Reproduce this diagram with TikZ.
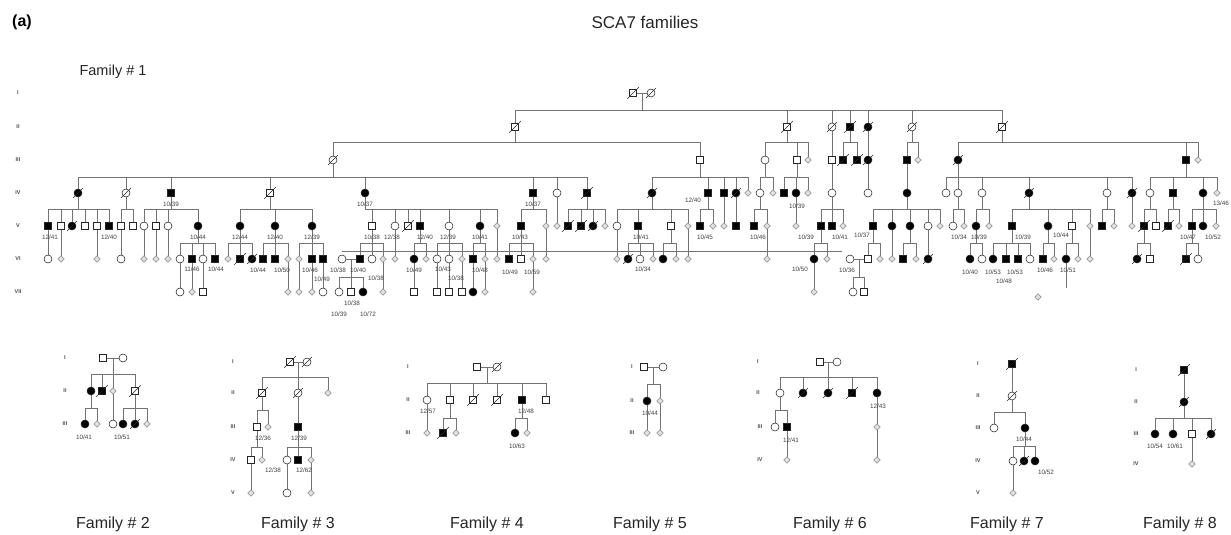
\documentclass[tikz,border=0pt]{standalone}
\usepackage{fontspec}
\setmainfont{Liberation Sans}
\usetikzlibrary{shapes.geometric,calc}
\pgfdeclarelayer{bg}
\pgfsetlayers{bg,main}
\tikzset{
  sym/.style={draw=black!85, line width=0.55pt, inner sep=0pt, outer sep=0pt},
  pm/.style={sym, rectangle, minimum size=7.5pt, fill=white},
  pma/.style={sym, rectangle, minimum size=7.5pt, fill=black},
  pf/.style={sym, circle, minimum size=8pt, fill=white},
  pfa/.style={sym, circle, minimum size=8pt, fill=black},
  pu/.style={sym, diamond, minimum size=6.5pt, draw=black!45, fill=black!12},
  ln/.style={draw=black!55, line width=0.6pt},
  slash/.style={draw=black!85, line width=0.5pt},
  lab/.style={font=\fontsize{6.3}{7}\selectfont, text=black!75, inner sep=0pt},
  rom/.style={font=\bfseries\fontsize{5.5}{6}\selectfont, text=black!70, inner sep=0pt},
  fam/.style={font=\fontsize{16}{18}\selectfont, text=black!85, inner sep=0pt},
}
\def\yA{93}\def\yB{127}\def\yC{160}\def\yD{193}\def\yE{226}\def\yF{259}\def\yG{292}
\newcommand\Dec[1]{\draw[slash] ([shift={(-2pt,-2pt)}]#1.south west) -- ([shift={(2pt,2pt)}]#1.north east);}
\newcommand\Nd[3]{\node[#2] (#1#3) at (#3,\csname y#1\endcsname) {};}
\newcommand\Ndx[3]{\Nd{#1}{#2}{#3}\Dec{#1#3}}
\newcommand\Jn[4]{\node[#2] (#1) at (#3,#4) {};}
\newcommand\Jx[4]{\Jn{#1}{#2}{#3}{#4}\Dec{#1}}
\newcommand\Lab[3]{\node[lab] (L#1x#2) at (#1,#2) {#3};}
\newcommand\Sib[3]{%
  \draw[ln] (#1) -- (#1 |- 0,#2);
  \foreach \ch in {#3}{\draw[ln] (\ch) -- (\ch |- 0,#2) -- (#1 |- 0,#2);}%
}
\begin{document}
\begin{tikzpicture}[x=1pt,y=-1pt]
\begin{pgfonlayer}{bg}
\fill[white] (0,0) rectangle (1231,535);
\end{pgfonlayer}
\useasboundingbox (0,0) rectangle (1231,535);

% ---------------- titles
\node[font=\bfseries\fontsize{16}{18}\selectfont, inner sep=0pt] (ta) at (22,22) {(a)};
\node[fam, font=\fontsize{17}{19}\selectfont] (tt) at (645,22) {SCA7 families};
\node[fam, font=\fontsize{14.5}{17}\selectfont] (t1) at (113,72) {Family \# 1};
\node[fam] (t2) at (113,524) {Family \# 2};
\node[fam] (t3) at (298,524) {Family \# 3};
\node[fam] (t4) at (487,524) {Family \# 4};
\node[fam] (t5) at (650,524) {Family \# 5};
\node[fam] (t6) at (830,524) {Family \# 6};
\node[fam] (t7) at (1007,524) {Family \# 7};
\node[fam] (t8) at (1180,524) {Family \# 8};

% ---------------- roman numerals family 1
\node[rom] (r1) at (18,93) {I};
\node[rom] (r2) at (18,127) {II};
\node[rom] (r3) at (18,160) {III};
\node[rom] (r4) at (18,193) {IV};
\node[rom] (r5) at (18,226) {V};
\node[rom] (r6) at (18,259) {VI};
\node[rom] (r7) at (18,292) {VII};

% ---------------- Family 1 individuals
\Ndx{A}{pm}{633} \Ndx{A}{pf}{651}
\coordinate (Am) at (642,93);

\Ndx{B}{pm}{515} \Ndx{B}{pm}{787} \Ndx{B}{pf}{832} \Ndx{B}{pma}{850} \Ndx{B}{pfa}{868} \Ndx{B}{pf}{912} \Ndx{B}{pm}{1002}

\Ndx{C}{pf}{333} \Nd{C}{pm}{700} \Nd{C}{pf}{765} \Nd{C}{pm}{797} \Nd{C}{pu}{808} \Nd{C}{pm}{832}
\Ndx{C}{pma}{843} \Ndx{C}{pma}{857} \Ndx{C}{pfa}{868} \Nd{C}{pma}{907} \Nd{C}{pu}{918} \Ndx{C}{pfa}{958}
\Nd{C}{pma}{1186} \Nd{C}{pu}{1198}

\Ndx{D}{pfa}{78} \Ndx{D}{pf}{126} \Nd{D}{pma}{171} \Ndx{D}{pm}{270} \Nd{D}{pfa}{365} \Nd{D}{pma}{533}
\Nd{D}{pf}{557} \Ndx{D}{pma}{587} \Ndx{D}{pfa}{652} \Nd{D}{pma}{708} \Nd{D}{pma}{724} \Ndx{D}{pfa}{736}
\Nd{D}{pu}{748} \Nd{D}{pf}{760} \Nd{D}{pu}{773} \Nd{D}{pma}{784} \Nd{D}{pfa}{796} \Nd{D}{pu}{808}
\Nd{D}{pf}{832} \Nd{D}{pf}{868} \Nd{D}{pfa}{907} \Nd{D}{pf}{946} \Nd{D}{pf}{958} \Nd{D}{pf}{982}
\Ndx{D}{pfa}{1029} \Nd{D}{pf}{1107} \Ndx{D}{pfa}{1132} \Nd{D}{pf}{1150} \Nd{D}{pma}{1173} \Nd{D}{pfa}{1203} \Nd{D}{pu}{1217}

\Nd{E}{pma}{48} \Nd{E}{pm}{61} \Ndx{E}{pfa}{72} \Nd{E}{pm}{85} \Nd{E}{pm}{97} \Nd{E}{pma}{109}
\Nd{E}{pm}{121} \Nd{E}{pm}{133}
\Nd{E}{pf}{144} \Nd{E}{pm}{156} \Nd{E}{pf}{168} \Nd{E}{pfa}{198}
\Nd{E}{pfa}{240} \Nd{E}{pfa}{275} \Nd{E}{pfa}{312}
\Nd{E}{pm}{372} \Nd{E}{pf}{395} \Ndx{E}{pm}{408} \Nd{E}{pma}{420} \Nd{E}{pf}{449} \Nd{E}{pfa}{480} \Nd{E}{pu}{497}
\Nd{E}{pma}{521} \Nd{E}{pu}{546} \Nd{E}{pu}{557}
\Ndx{E}{pma}{568} \Ndx{E}{pma}{581} \Ndx{E}{pfa}{593} \Nd{E}{pu}{605}
\Nd{E}{pf}{617} \Nd{E}{pma}{638} \Nd{E}{pm}{671} \Nd{E}{pu}{688}
\Nd{E}{pma}{700} \Nd{E}{pu}{713} \Nd{E}{pu}{724} \Nd{E}{pma}{736}
\Nd{E}{pma}{754} \Nd{E}{pu}{767} \Nd{E}{pu}{796}
\Nd{E}{pma}{821} \Nd{E}{pma}{832} \Nd{E}{pu}{843}
\Nd{E}{pma}{873} \Nd{E}{pfa}{892} \Nd{E}{pfa}{910} \Nd{E}{pf}{928} \Nd{E}{pu}{940}
\Nd{E}{pf}{953} \Nd{E}{pu}{964} \Nd{E}{pfa}{976} \Nd{E}{pu}{989}
\Nd{E}{pma}{1012} \Nd{E}{pfa}{1048} \Nd{E}{pm}{1072} \Nd{E}{pu}{1090}
\Nd{E}{pma}{1102} \Nd{E}{pu}{1114} \Nd{E}{pu}{1132}
\Ndx{E}{pma}{1144} \Nd{E}{pm}{1156} \Ndx{E}{pma}{1168} \Nd{E}{pu}{1179}
\Nd{E}{pma}{1192} \Nd{E}{pfa}{1203} \Nd{E}{pu}{1216}

\Nd{F}{pf}{48} \Nd{F}{pu}{61} \Nd{F}{pu}{97} \Nd{F}{pf}{121} \Nd{F}{pu}{144} \Nd{F}{pu}{156} \Nd{F}{pu}{168}
\Nd{F}{pf}{180} \Nd{F}{pma}{192} \Nd{F}{pf}{203} \Nd{F}{pma}{215}
\Nd{F}{pu}{228} \Ndx{F}{pma}{240} \Ndx{F}{pfa}{252}
\Nd{F}{pma}{263} \Nd{F}{pma}{275} \Nd{F}{pu}{288}
\Nd{F}{pu}{299} \Nd{F}{pma}{312} \Nd{F}{pma}{323}
\Nd{F}{pf}{342} \Nd{F}{pma}{360} \Nd{F}{pf}{372} \Nd{F}{pu}{383}
\Nd{F}{pu}{395} \Nd{F}{pfa}{414} \Nd{F}{pu}{426}
\Nd{F}{pf}{437} \Nd{F}{pf}{449} \Nd{F}{pu}{462} \Nd{F}{pma}{473} \Nd{F}{pu}{485} \Nd{F}{pu}{497}
\Nd{F}{pma}{509} \Nd{F}{pm}{521} \Nd{F}{pu}{533} \Nd{F}{pu}{546}
\Nd{F}{pu}{617} \Ndx{F}{pfa}{628} \Nd{F}{pf}{640} \Nd{F}{pu}{653} \Nd{F}{pfa}{663} \Nd{F}{pu}{676} \Nd{F}{pu}{688}
\Nd{F}{pu}{767} \Nd{F}{pfa}{814} \Nd{F}{pu}{827}
\Nd{F}{pf}{850} \Nd{F}{pm}{868} \Nd{F}{pu}{880} \Nd{F}{pu}{892} \Nd{F}{pma}{903} \Nd{F}{pu}{916} \Ndx{F}{pfa}{928}
\Nd{F}{pfa}{970} \Nd{F}{pf}{982} \Nd{F}{pfa}{993} \Nd{F}{pma}{1006} \Nd{F}{pma}{1018} \Nd{F}{pf}{1030}
\Nd{F}{pma}{1043} \Nd{F}{pu}{1054} \Nd{F}{pfa}{1066} \Nd{F}{pu}{1078} \Nd{F}{pu}{1090}
\Ndx{F}{pfa}{1137} \Nd{F}{pm}{1150} \Ndx{F}{pma}{1186} \Nd{F}{pf}{1198}
\coordinate (Fm351) at (351,259);
\coordinate (Fm859) at (859,259);

\Nd{G}{pf}{180} \Nd{G}{pu}{192} \Nd{G}{pm}{203}
\Nd{G}{pu}{288} \Nd{G}{pu}{299} \Nd{G}{pu}{312} \Nd{G}{pf}{323}
\Nd{G}{pf}{339} \Nd{G}{pm}{351} \Nd{G}{pfa}{363} \Nd{G}{pu}{383}
\Nd{G}{pm}{414} \Nd{G}{pm}{437} \Nd{G}{pm}{449} \Nd{G}{pm}{462} \Nd{G}{pfa}{473} \Nd{G}{pu}{485} \Nd{G}{pu}{533}
\Nd{G}{pu}{814} \Nd{G}{pf}{853} \Nd{G}{pm}{864}
\node[pu] (G1038) at (1038,297) {};
\coordinate (T1066) at (1066,288);
\coordinate (LLa) at (342,251);
\coordinate (LLb) at (842,251);

% ---------------- Family 1 labels
\Lab{171}{204}{10/39} \Lab{365}{204}{10/37} \Lab{533}{204}{10/37} \Lab{693}{200}{12/40} \Lab{797}{206}{10/39} \Lab{1221}{203}{13/46}
\Lab{50}{237}{12/41} \Lab{109}{237}{12/40} \Lab{198}{237}{10/44} \Lab{240}{237}{12/44} \Lab{275}{237}{12/40} \Lab{312}{237}{12/39}
\Lab{372}{237}{10/38} \Lab{392}{237}{12/38} \Lab{425}{237}{12/40} \Lab{448}{237}{12/39} \Lab{480}{237}{10/41} \Lab{520}{237}{10/43}
\Lab{641}{237}{10/41} \Lab{705}{237}{10/45} \Lab{758}{237}{10/46} \Lab{806}{237}{10/39} \Lab{840}{237}{10/41} \Lab{862}{235}{10/37}
\Lab{959}{237}{10/34} \Lab{979}{237}{10/39} \Lab{1023}{237}{10/39} \Lab{1061}{235}{10/44} \Lab{1188}{237}{10/47} \Lab{1213}{237}{10/52}
\Lab{192}{269}{11/46} \Lab{216}{269}{10/44} \Lab{258}{270}{10/44} \Lab{282}{270}{10/50} \Lab{310}{270}{10/46} \Lab{322}{279}{10/49}
\Lab{338}{270}{10/38} \Lab{358}{270}{10/40} \Lab{376}{278}{10/38} \Lab{414}{270}{10/49} \Lab{443}{269}{10/43} \Lab{456}{278}{10/38}
\Lab{480}{270}{10/48} \Lab{510}{272}{10/49} \Lab{532}{272}{10/59} \Lab{643}{269}{10/34} \Lab{800}{269}{10/50} \Lab{847}{270}{10/36}
\Lab{970}{272}{10/40} \Lab{993}{272}{10/53} \Lab{1015}{272}{10/53} \Lab{1004}{281}{10/48} \Lab{1045}{270}{10/46} \Lab{1068}{270}{10/51}
\Lab{352}{303}{10/38} \Lab{339}{314}{10/39} \Lab{368}{314}{10/72}

% ---------------- Family 2
\node[rom] (f2r1) at (65,358) {I}; \node[rom] (f2r2) at (65,391) {II}; \node[rom] (f2r3) at (65,424) {III};
\Jn{ba103}{pm}{103}{358} \Jn{ba123}{pf}{123}{358} \coordinate (bam) at (113,358);
\Jn{bb91}{pfa}{91}{391} \Jx{bb102}{pma}{102}{391} \Jn{bb113}{pu}{113}{391} \Jx{bb135}{pm}{135}{391}
\Jn{bc85}{pfa}{85}{424} \Jn{bc97}{pu}{97}{424} \Jn{bc113}{pf}{113}{424} \Jn{bc123}{pfa}{123}{424} \Jx{bc135}{pfa}{135}{424} \Jn{bc147}{pu}{147}{424}
\Lab{84}{437}{10/41} \Lab{122}{437}{10/51}

% ---------------- Family 3
\node[rom] (f3r1) at (233,362) {I}; \node[rom] (f3r2) at (233,393) {II}; \node[rom] (f3r3) at (233,427) {III};
\node[rom] (f3r4) at (233,460) {IV}; \node[rom] (f3r5) at (233,493) {V};
\Jx{ca290}{pm}{290}{362} \Jx{ca307}{pf}{307}{362} \coordinate (cam) at (298,362);
\Jx{cb262}{pm}{262}{393} \Jx{cb298}{pf}{298}{393} \Jn{cb328}{pu}{328}{393}
\Jn{cc257}{pm}{257}{427} \Jn{cc268}{pu}{268}{427} \Jn{cc298}{pma}{298}{427}
\Jn{cd251}{pm}{251}{460} \Jn{cd262}{pu}{262}{460} \Jn{cd287}{pf}{287}{460} \Jn{cd298}{pma}{298}{460} \Jn{cd311}{pu}{311}{460}
\Jn{ce251}{pu}{251}{493} \Jn{ce287}{pf}{287}{493} \Jn{ce311}{pu}{311}{493}
\Lab{263}{438}{12/36} \Lab{299}{438}{12/39} \Lab{273}{470}{12/38} \Lab{304}{470}{12/62}

% ---------------- Family 4
\node[rom] (f4r1) at (408,367) {I}; \node[rom] (f4r2) at (408,400) {II}; \node[rom] (f4r3) at (408,433) {III};
\Jn{da477}{pm}{477}{367} \Jx{da497}{pf}{497}{367} \coordinate (dam) at (487,367);
\Jn{db427}{pf}{427}{400} \Jn{db450}{pm}{450}{400} \Jx{db473}{pm}{473}{400} \Jx{db497}{pm}{497}{400} \Jn{db522}{pma}{522}{400} \Jn{db546}{pm}{546}{400}
\Jn{dc427}{pu}{427}{433} \Jx{dc443}{pma}{443}{433} \Jn{dc456}{pu}{456}{433} \Jn{dc515}{pfa}{515}{433} \Jn{dc527}{pu}{527}{433}
\Lab{428}{411}{12/57} \Lab{526}{411}{12/48} \Lab{517}{446}{10/63}

% ---------------- Family 5
\node[rom] (f5r1) at (632,367) {I}; \node[rom] (f5r2) at (632,401) {II}; \node[rom] (f5r3) at (632,433) {III};
\Jn{ea644}{pm}{644}{367} \Jn{ea663}{pf}{663}{367} \coordinate (eam) at (653,367);
\Jn{eb647}{pfa}{647}{401} \Jn{eb660}{pu}{660}{401}
\Jn{ec647}{pu}{647}{433} \Jn{ec660}{pu}{660}{433}
\Lab{650}{413}{10/44}

% ---------------- Family 6
\node[rom] (f6r1) at (758,362) {I}; \node[rom] (f6r2) at (758,393) {II}; \node[rom] (f6r3) at (760,427) {III}; \node[rom] (f6r4) at (760,460) {IV};
\Jn{ha820}{pm}{820}{362} \Jn{ha837}{pf}{837}{362} \coordinate (ham) at (828,362);
\Jn{hb780}{pf}{780}{393} \Jx{hb803}{pfa}{803}{393} \Jx{hb828}{pfa}{828}{393} \Jx{hb852}{pma}{852}{393} \Jn{hb877}{pfa}{877}{393}
\Jn{hc775}{pf}{775}{427} \Jn{hc787}{pma}{787}{427} \Jn{hc877}{pu}{877}{427}
\Jn{hd787}{pu}{787}{460} \Jn{hd877}{pu}{877}{460}
\Lab{878}{406}{12/43} \Lab{791}{440}{12/41}

% ---------------- Family 7
\node[rom] (f7r1) at (978,364) {I}; \node[rom] (f7r2) at (978,396) {II}; \node[rom] (f7r3) at (978,428) {III};
\node[rom] (f7r4) at (978,461) {IV}; \node[rom] (f7r5) at (978,493) {V};
\Jx{ka1012}{pma}{1012}{364}
\Jx{kb1012}{pf}{1012}{396}
\Jn{kc994}{pf}{994}{428} \Jn{kc1025}{pfa}{1025}{428}
\Jn{kd1013}{pf}{1013}{461} \Jx{kd1024}{pfa}{1024}{461} \Jn{kd1035}{pfa}{1035}{461}
\Jn{ke1013}{pu}{1013}{493}
\Lab{1024}{439}{10/44} \Lab{1046}{472}{10/52}

% ---------------- Family 8
\node[rom] (f8r1) at (1136,370) {I}; \node[rom] (f8r2) at (1136,402) {II}; \node[rom] (f8r3) at (1136,434) {III}; \node[rom] (f8r4) at (1136,464) {IV};
\Jx{na1184}{pma}{1184}{370}
\Jx{nb1184}{pfa}{1184}{402}
\Jn{nc1155}{pfa}{1155}{434} \Jn{nc1173}{pfa}{1173}{434} \Jn{nc1192}{pm}{1192}{434} \Jx{nc1211}{pfa}{1211}{434}
\Jn{nd1192}{pu}{1192}{464}
\Lab{1155}{446}{10/54} \Lab{1175}{446}{10/61}

% ================= connectors
\begin{pgfonlayer}{bg}
% Family 1
\draw[ln] (A633) -- (A651);
\Sib{Am}{110}{B515,B787,B832,B850,B868,B912,B1002}
\Sib{B515}{142}{C333,C700}
\Sib{B787}{142}{C765,C797,C808}
\draw[ln] (B832) -- (C832);
\Sib{B850}{142}{C843,C857}
\draw[ln] (B868) -- (C868);
\Sib{B912}{142}{C907,C918}
\Sib{B1002}{142}{C958,C1186,C1198}

\Sib{C333}{177}{D78,D126,D171,D270,D365,D533,D557,D587}
\Sib{C700}{177}{D652,D708,D724,D736,D748}
\Sib{C765}{177}{D760,D773}
\Sib{C797}{177}{D784,D796,D808}
\draw[ln] (C832) -- (D832);
\draw[ln] (C868) -- (D868);
\draw[ln] (C907) -- (D907);
\Sib{C958}{177}{D946,D958,D982,D1029,D1107,D1132}
\Sib{C1186}{177}{D1150,D1173,D1203,D1217}

\Sib{D78}{209}{E48,E61,E72,E85,E97,E109}
\Sib{D126}{209}{E121,E133}
\Sib{D171}{209}{E144,E156,E168,E198}
\Sib{D270}{209}{E240,E275,E312}
\Sib{D365}{209}{E372,E395,E408,E420,E449,E480,E497}
\Sib{D533}{209}{E521,E546}
\draw[ln] (D557) -- (E557);
\Sib{D587}{209}{E568,E581,E593,E605}
\Sib{D652}{209}{E617,E638,E671,E688}
\Sib{D708}{209}{E700,E713}
\draw[ln] (D724) -- (E724);
\draw[ln] (D736) -- (E736);
\Sib{D760}{209}{E754,E767}
\draw[ln] (D796) -- (E796);
\Sib{D832}{209}{E821,E832,E843}
\Sib{D907}{209}{E873,E892,E910,E928,E940}
\Sib{D958}{209}{E953,E964}
\Sib{D982}{209}{E976,E989}
\Sib{D1029}{209}{E1012,E1048,E1072,E1090}
\Sib{D1107}{209}{E1102,E1114}
\draw[ln] (D1132) -- (E1132);
\Sib{D1150}{209}{E1144,E1156}
\Sib{D1173}{209}{E1168,E1179}
\Sib{D1203}{209}{E1192,E1203,E1216}

\foreach \a in {48,61,97,121,144,156,168,395,497,546,617,688,767,892,928,1090}{\draw[ln] (E\a) -- (F\a);}
\Sib{E198}{243}{F180,F192,F203,F215}
\Sib{E240}{243}{F228,F240,F252}
\Sib{E275}{243}{F263,F275,F288}
\Sib{E312}{243}{F299,F312,F323}
\Sib{E372}{243}{F360,F372,F383}
\Sib{E420}{243}{F414,F426}
\Sib{E449}{243}{F437,F449,F462}
\Sib{E480}{243}{F473,F485}
\Sib{E521}{243}{F509,F521,F533}
\Sib{E638}{243}{F628,F640,F653}
\Sib{E671}{243}{F663,F676}
\Sib{E821}{243}{F814,F827}
\Sib{E873}{243}{F868,F880}
\Sib{E910}{243}{F903,F916}
\Sib{E976}{243}{F970,F982}
\Sib{E1012}{243}{F993,F1006,F1018,F1030}
\Sib{E1048}{243}{F1043,F1054}
\Sib{E1072}{243}{F1066,F1078}
\Sib{E1144}{243}{F1137,F1150}
\Sib{E1192}{243}{F1186,F1198}
\draw[ln] (LLa) -- (LLb);

\draw[ln] (F342) -- (F360);
\draw[ln] (F850) -- (F868);
\Sib{Fm351}{277}{G339,G351,G363}
\Sib{Fm859}{277}{G853,G864}
\foreach \a in {180,192,203,288,299,312,323,383,414,437,449,462,473,485,533,814}{\draw[ln] (F\a) -- (G\a);}
\draw[ln] (F1066) -- (T1066);

% Family 2
\draw[ln] (ba103) -- (ba123);
\Sib{bam}{374}{bb91,bb102,bb113,bb135}
\Sib{bb91}{408}{bc85,bc97}
\draw[ln] (bb113) -- (bc113);
\Sib{bb135}{408}{bc123,bc135,bc147}
% Family 3
\draw[ln] (ca290) -- (ca307);
\Sib{cam}{377}{cb262,cb298,cb328}
\Sib{cb262}{410}{cc257,cc268}
\draw[ln] (cb298) -- (cc298);
\Sib{cc257}{447}{cd251,cd262}
\Sib{cc298}{447}{cd287,cd298,cd311}
\draw[ln] (cd251) -- (ce251);
\draw[ln] (cd287) -- (ce287);
\draw[ln] (cd311) -- (ce311);
% Family 4
\draw[ln] (da477) -- (da497);
\Sib{dam}{383}{db427,db450,db473,db497,db522,db546}
\draw[ln] (db427) -- (dc427);
\Sib{db450}{418}{dc443,dc456}
\Sib{db522}{418}{dc515,dc527}
% Family 5
\draw[ln] (ea644) -- (ea663);
\Sib{eam}{384}{eb647,eb660}
\draw[ln] (eb647) -- (ec647);
\draw[ln] (eb660) -- (ec660);
% Family 6
\draw[ln] (ha820) -- (ha837);
\Sib{ham}{377}{hb780,hb803,hb828,hb852,hb877}
\Sib{hb780}{410}{hc775,hc787}
\draw[ln] (hc787) -- (hd787);
\draw[ln] (hb877) -- (hc877);
\draw[ln] (hc877) -- (hd877);
% Family 7
\draw[ln] (ka1012) -- (kb1012);
\Sib{kb1012}{412}{kc994,kc1025}
\Sib{kc1025}{446}{kd1013,kd1024,kd1035}
\draw[ln] (kd1013) -- (ke1013);
% Family 8
\draw[ln] (na1184) -- (nb1184);
\Sib{nb1184}{418}{nc1155,nc1173,nc1192,nc1211}
\draw[ln] (nc1192) -- (nd1192);
\end{pgfonlayer}
\end{tikzpicture}
\end{document}
